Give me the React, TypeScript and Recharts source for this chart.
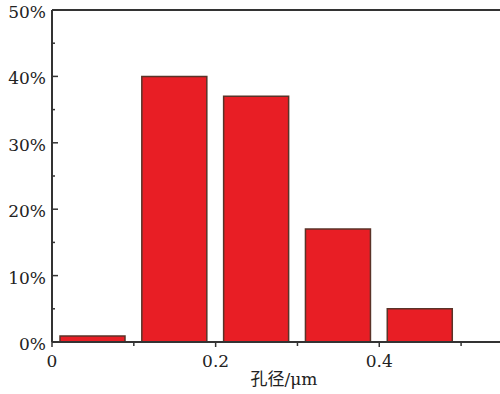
import React from 'react';
import { BarChart, Bar, XAxis, YAxis, ReferenceLine } from 'recharts';

// pore size bins (bin centre, µm) and share of pores (%)
const poreSizes = [0.05, 0.15, 0.25, 0.35, 0.45];
const shares = [0.9, 40, 37, 17, 5];

const xTicks = [0, 0.1, 0.2, 0.3, 0.4, 0.5];
const xLabels = ['0', '', '0.2', '', '0.4', ''];
const yTicks = [0, 5, 10, 15, 20, 25, 30, 35, 40, 45, 50];
const yLabels = ['0%', '', '10%', '', '20%', '', '30%', '', '40%', '', '50%'];
const xTitle = '孔径/μm';

const data = poreSizes.map((x, i) => ({ x, share: shares[i] }));

const FONT = 'DejaVu Serif, Noto Sans CJK SC, serif';
const AXIS = '#333';

const XTick = (props: any) => {
  const { x, y, payload } = props;
  const i = xTicks.indexOf(payload.value);
  const label = xLabels[i];
  return (
    <g>
      <line x1={x} x2={x} y1={y} y2={y + (label ? 5 : 4)} stroke={AXIS} strokeWidth={1.5} />
      {label && (
        <text x={x} y={y + 25} textAnchor="middle" fontFamily={FONT} fontSize={17} fill="#222">
          {label}
        </text>
      )}
    </g>
  );
};

const YTick = (props: any) => {
  const { x, y, payload } = props;
  const i = yTicks.indexOf(payload.value);
  const label = yLabels[i];
  return (
    <g>
      <line x1={x} x2={x + (label ? 6 : 3)} y1={y} y2={y} stroke={AXIS} strokeWidth={1.5} />
      {label && (
        <text x={x - 6} y={y + 8} textAnchor="end" fontFamily={FONT} fontSize={17} fill="#222">
          {label}
        </text>
      )}
    </g>
  );
};

const XTitle = (props: any) => {
  const { viewBox } = props;
  const cx = viewBox.x + viewBox.width / 2 + 7;
  const by = viewBox.y + viewBox.height - 9;
  return (
    <text x={cx} y={by} textAnchor="middle" fontFamily={FONT} fontSize={17} fill="#222">
      {xTitle}
    </text>
  );
};

const App: React.FC = () => {
  return (
    <div style={{ position: 'absolute', left: 0, top: 0, width: 500, height: 394, overflow: 'hidden', background: '#fff' }}>
      <BarChart width={502} height={394} data={data} margin={{ top: 10, right: 0, left: 0, bottom: 0 }}>
        <XAxis
          dataKey="x"
          type="number"
          domain={[0, 0.55]}
          ticks={xTicks}
          tick={<XTick />}
          tickSize={0}
          tickMargin={0}
          tickLine={false}
          height={52}
          axisLine={{ stroke: AXIS, strokeWidth: 2 }}
          label={<XTitle />}
        />
        <YAxis
          type="number"
          domain={[0, 50]}
          ticks={yTicks}
          tick={<YTick />}
          tickSize={0}
          tickMargin={0}
          tickLine={false}
          width={52}
          axisLine={{ stroke: AXIS, strokeWidth: 2 }}
        />
        <ReferenceLine y={50} stroke={AXIS} strokeWidth={2} />
        <Bar dataKey="share" barSize={65} fill="#e81e25" stroke="#5a3328" strokeWidth={1.5} isAnimationActive={false} />
      </BarChart>
    </div>
  );
};

export default App;
